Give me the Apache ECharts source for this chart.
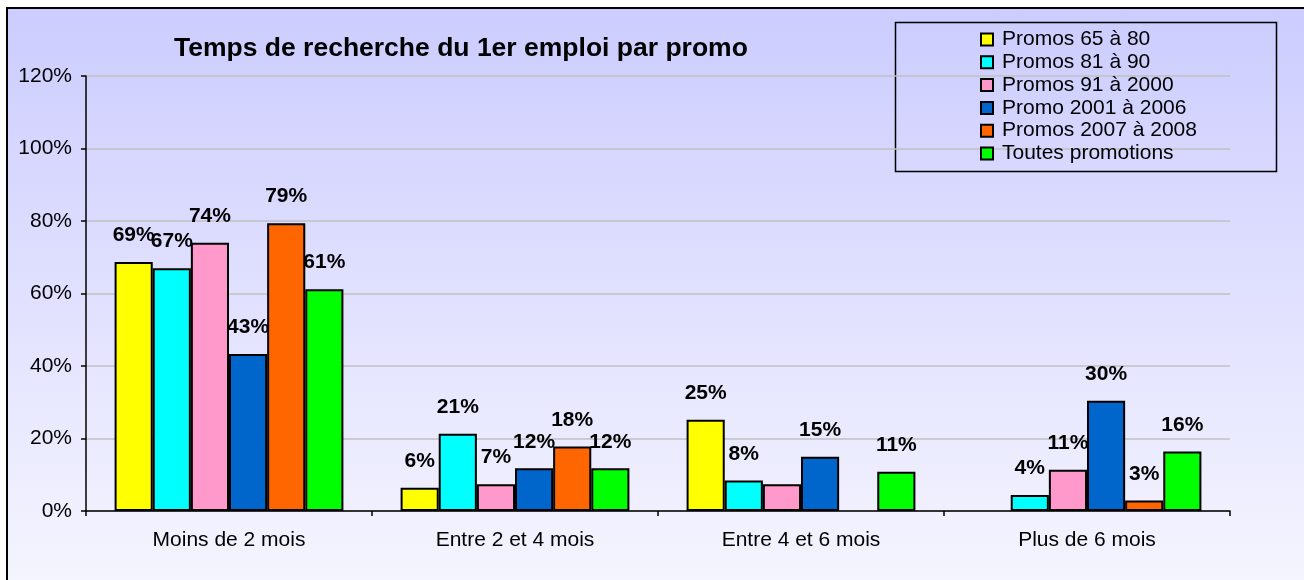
<!DOCTYPE html>
<html>
<head>
<meta charset="utf-8">
<script src="https://cdn.jsdelivr.net/npm/echarts@6/dist/echarts.min.js"></script>
<style>
  html, body { margin: 0; padding: 0; background: #fff; }
  #main { width: 1304px; height: 580px; }
</style>
</head>
<body>
<div id="main"></div>
<script>
// durée de recherche du 1er emploi, en % par promo
var categories = ['Moins de 2 mois', 'Entre 2 et 4 mois', 'Entre 4 et 6 mois', 'Plus de 6 mois'];
var seriesNames = ['Promos 65 à 80', 'Promos 81 à 90', 'Promos 91 à 2000', 'Promo 2001 à 2006', 'Promos 2007 à 2008', 'Toutes promotions'];
var colors = ['#ffff00', '#00ffff', '#ff99cc', '#0066cc', '#ff6600', '#00ff00'];

var promos6580 = [68.7, 6.4, 25.2, null];
var promos8190 = [67.0, 21.3, 8.4, 4.4];
var promos912000 = [74.0, 7.4, 7.4, 11.4];
var promo20012006 = [43.3, 11.8, 15.0, 30.4];
var promos20072008 = [79.4, 17.8, null, 2.9];
var toutes = [61.2, 11.8, 10.8, 16.4];

var yTicks = [0, 20, 40, 60, 80, 100, 120];

// label absent on the chart: [series, category]
var noLabel = [[2, 2]];

var allValues = [promos6580, promos8190, promos912000, promo20012006, promos20072008, toutes];

var font = '"Liberation Sans", Arial, sans-serif';

var series = allValues.map(function (vals, s) {
    return {
        name: seriesNames[s],
        type: 'bar',
        barGap: '0%',
        barCategoryGap: '20%',
        itemStyle: {
            color: colors[s],
            borderColor: '#000',
            borderWidth: 2
        },
        label: {
            show: true,
            position: 'top',
            distance: 16,
            fontFamily: font,
            fontSize: 21,
            fontWeight: 'bold',
            color: '#000',
            formatter: function (p) {
                return Math.round(p.value) + '%';
            }
        },
        data: vals.map(function (v, c) {
            var hide = noLabel.some(function (n) { return n[0] === s && n[1] === c; });
            if (hide) {
                return { value: v, label: { show: false } };
            }
            return v;
        })
    };
});

var option = {
    backgroundColor: '#fff',
    animation: false,
    graphic: [{
        type: 'rect',
        z: -10,
        silent: true,
        shape: { x: 7, y: 8, width: 1310, height: 590 },
        style: {
            fill: new echarts.graphic.LinearGradient(0, 0, 0, 1, [
                { offset: 0, color: '#ccccff' },
                { offset: 1, color: '#f6f6ff' }
            ]),
            stroke: '#000',
            lineWidth: 2
        }
    }, {
        type: 'rect',
        z: -5,
        silent: true,
        shape: { x: 895.5, y: 22.5, width: 381, height: 149 },
        style: {
            fill: 'none',
            stroke: '#000',
            lineWidth: 1.5
        }
    }],
    title: {
        text: 'Temps de recherche du 1er emploi par promo',
        left: 174,
        top: 35,
        padding: 0,
        textStyle: {
            fontFamily: font,
            fontSize: 26.5,
            fontWeight: 'bold',
            color: '#000'
        }
    },
    legend: {
        orient: 'vertical',
        left: 980,
        top: 29,
        padding: 0,
        itemWidth: 12,
        itemHeight: 12,
        itemGap: 1.8,
        icon: 'rect',
        textStyle: {
            fontFamily: font,
            fontSize: 21,
            lineHeight: 20,
            color: '#000',
            padding: [0, 0, 0, 4]
        },
        data: seriesNames
    },
    grid: {
        left: 86,
        right: 74,
        top: 76,
        bottom: 69,
        containLabel: false
    },
    xAxis: {
        type: 'category',
        data: categories,
        axisLine: { lineStyle: { color: '#000', width: 1.5 } },
        axisTick: { show: true, length: 5, lineStyle: { color: '#000', width: 1.5 } },
        axisLabel: {
            margin: 19,
            fontFamily: font,
            fontSize: 21,
            color: '#000'
        }
    },
    yAxis: {
        type: 'value',
        min: yTicks[0],
        max: yTicks[yTicks.length - 1],
        interval: 20,
        axisLine: { show: true, lineStyle: { color: '#000', width: 1.5 } },
        axisTick: { show: true, length: 5, lineStyle: { color: '#000', width: 1.5 } },
        splitLine: { lineStyle: { color: '#c0c0c0', width: 1.5 } },
        axisLabel: {
            margin: 14,
            fontFamily: font,
            fontSize: 21,
            color: '#000',
            formatter: '{value}%'
        }
    },
    series: series
};

var myChart = echarts.init(document.getElementById('main'));
myChart.setOption(option);
</script>
</body>
</html>
